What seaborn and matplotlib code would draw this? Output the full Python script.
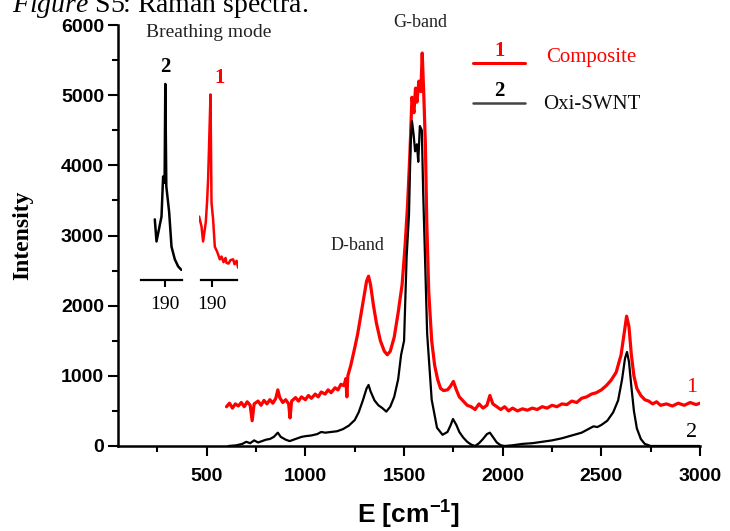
"""Raman spectra of the composite and oxidised SWNT (Figure S5)."""

import matplotlib
matplotlib.use("Agg")
import matplotlib.pyplot as plt
import numpy as np
import pandas as pd
import seaborn as sns
from matplotlib.lines import Line2D
from matplotlib.ticker import MultipleLocator

# main spectra (wavenumber cm^-1, intensity)
composite_x = [600, 615, 630, 645, 660, 675, 690, 705, 720, 730, 740, 760, 775, 790, 805,
               820, 835, 850, 860, 870, 885, 900, 915, 922, 930, 950, 965, 980, 1000, 1015,
               1030, 1050, 1065, 1080, 1100, 1115, 1130, 1150, 1165, 1180, 1195, 1205, 1210,
               1215, 1230, 1250, 1265, 1280, 1295, 1310, 1320, 1330, 1345, 1360, 1380, 1400,
               1415, 1430, 1450, 1470, 1490, 1505, 1518, 1530, 1540, 1550, 1558, 1565, 1575,
               1585, 1592, 1600, 1608, 1615, 1625, 1640, 1655, 1670, 1685, 1700, 1720, 1735,
               1750, 1765, 1780, 1800, 1820, 1840, 1860, 1880, 1900, 1920, 1935, 1950, 1970,
               1990, 2010, 2030, 2050, 2075, 2100, 2125, 2150, 2175, 2200, 2225, 2250, 2275,
               2300, 2325, 2350, 2375, 2400, 2425, 2450, 2475, 2500, 2525, 2550, 2575, 2600,
               2615, 2628, 2640, 2652, 2665, 2680, 2700, 2720, 2740, 2760, 2780, 2800, 2830,
               2860, 2890, 2920, 2950, 2980, 3000]
composite_y = [560, 610, 540, 600, 570, 620, 560, 630, 580, 360, 600, 640, 580, 650, 600,
               660, 610, 680, 800, 690, 620, 660, 600, 400, 640, 690, 640, 700, 660, 720,
               680, 740, 700, 770, 740, 800, 760, 830, 800, 880, 860, 960, 700,
               1000, 1150, 1400, 1600, 1850, 2100, 2350, 2420, 2300, 2000, 1750, 1500, 1350,
               1300, 1350, 1550, 1900, 2300, 2850, 3450, 4200, 4970, 4750, 5100, 4900, 5200,
               5050, 5600, 5000, 4300, 3200, 2200, 1500, 1150, 950, 820, 790, 800, 850,
               920, 800, 700, 640, 580, 560, 520, 600, 540, 580, 720, 600, 560,
               520, 560, 500, 540, 500, 530, 510, 540, 520, 560, 540, 580, 560,
               600, 590, 640, 620, 680, 700, 740, 760, 800, 860, 940, 1050, 1300,
               1600, 1850, 1700, 1300, 1000, 820, 720, 660, 640, 600, 630, 580, 600,
               570, 610, 580, 620, 590, 610]

oxi_x = [610, 650, 680, 700, 720, 740, 760, 780, 800, 820, 840, 860, 875, 900, 920, 940,
         960, 980, 1000, 1030, 1060, 1080, 1100, 1130, 1160, 1190, 1220, 1250, 1270, 1290,
         1310, 1320, 1330, 1350, 1370, 1390, 1410, 1430, 1450, 1470, 1485, 1500, 1513,
         1525, 1533, 1540, 1548, 1556, 1565, 1572, 1580, 1590, 1597, 1606, 1617, 1640,
         1667, 1695, 1720, 1735, 1748, 1765, 1780, 1800, 1820, 1840, 1860, 1880, 1900,
         1920, 1935, 1950, 1970, 1990, 2010, 2050, 2100, 2150, 2200, 2250, 2300, 2350,
         2400, 2440, 2460, 2480, 2500, 2530, 2560, 2585, 2605, 2620, 2630, 2640, 2652,
         2665, 2680, 2700, 2720, 2750, 2800, 3000]
oxi_y = [0, 10, 30, 60, 40, 80, 50, 70, 90, 100, 130, 190, 130, 90, 70, 90,
         110, 130, 140, 150, 170, 200, 190, 200, 210, 240, 290, 370, 480, 640,
         820, 870, 780, 650, 580, 540, 490, 560, 700, 950, 1300, 1500, 2700,
         3300, 4300, 4630, 4450, 4200, 4300, 4050, 4560, 4500, 3600, 2700, 1600, 660,
         260, 160, 200, 290, 385, 300, 200, 120, 60, 20, 0, 40, 100,
         170, 190, 130, 50, 10, 0, 10, 30, 40, 60, 80, 110, 150,
         190, 250, 280, 270, 300, 360, 480, 650, 950, 1250, 1340, 1200, 850,
         500, 250, 100, 30, 0, 0, 0]

# breathing-mode insets
oxi_rbm_x = [180.0, 181.7, 186.7, 188.3, 189.8, 190.5, 191.5, 194.3, 196.7, 200.0, 203.3, 206.5]
oxi_rbm_y = [3230, 2915, 3270, 3840, 3750, 5160, 3700, 3340, 2840, 2660, 2560, 2510]
composite_rbm_x = [177.6, 180.0, 181.6, 184.3, 185.6, 186.6, 187.6, 189.0, 190.0, 191.6,
                   193.3, 195.6, 198.3, 200.0, 202.0, 204.0, 205.0, 207.0, 209.0, 211.6,
                   213.0, 215.0, 216.6]
composite_rbm_y = [3270, 3130, 2915, 3190, 3490, 3800, 4300, 5010, 3470, 3230,
                   2840, 2770, 2660, 2700, 2620, 2680, 2610, 2600, 2650, 2660,
                   2590, 2640, 2540]

y_ticks = [0, 1000, 2000, 3000, 4000, 5000, 6000]
x_ticks = [500, 1000, 1500, 2000, 2500, 3000]

RED = "#ff0000"
BLACK = "#000000"
SERIF = "Liberation Serif"
SANS = "Liberation Sans"

sns.set_theme(style="ticks")
plt.rcParams["font.family"] = [SANS, "DejaVu Sans"]
plt.rcParams["mathtext.fontset"] = "custom"
plt.rcParams["mathtext.rm"] = SERIF
plt.rcParams["mathtext.it"] = SERIF + ":italic"

fig = plt.figure(figsize=(7.3, 5.31), dpi=100)
ax = fig.add_axes([118 / 730, 85 / 531, 582 / 730, 421 / 531])

comp_df = pd.DataFrame({"x": composite_x, "y": composite_y})
oxi_df = pd.DataFrame({"x": oxi_x, "y": oxi_y})
sns.lineplot(data=comp_df, x="x", y="y", color=RED, lw=2.3, estimator=None, ax=ax)
sns.lineplot(data=oxi_df, x="x", y="y", color=BLACK, lw=1.6, estimator=None, ax=ax)

ax.set_xlim(50, 3000)
ax.set_ylim(0, 6000)
ax.set_xticks(x_ticks)
ax.set_yticks(y_ticks)
ax.xaxis.set_minor_locator(MultipleLocator(250))
ax.yaxis.set_minor_locator(MultipleLocator(500))
ax.tick_params(which="major", length=7, width=1.5, color=BLACK)
ax.tick_params(axis="x", which="major", pad=9)
ax.tick_params(axis="y", which="major", pad=3)
ax.tick_params(which="minor", length=4, width=1.5, color=BLACK)
for lbl in ax.get_xticklabels() + ax.get_yticklabels():
    lbl.set_fontweight("bold")
    lbl.set_fontsize(14)
    lbl.set_color(BLACK)
sns.despine(ax=ax)
for side in ("left", "bottom"):
    ax.spines[side].set_linewidth(1.8)
    ax.spines[side].set_color(BLACK)

ax.set_xlabel(r"E [cm$\mathregular{^{-1}}$]", fontsize=19, fontweight="bold",
              color=BLACK, labelpad=10)
ax.set_ylabel("Intensity", fontsize=17, fontweight="bold", family=SERIF, color=BLACK)
ax.yaxis.set_label_coords(-0.145, 0.5)


def rbm_inset(x0, x1, xs, ys, color, lim):
    ins = ax.inset_axes([x0, 2372, x1 - x0, 6000 - 2372], transform=ax.transData)
    ins.patch.set_alpha(0)
    ins.plot(xs, ys, color=color, lw=1.8)
    ins.set_xlim(*lim)
    ins.set_ylim(2372, 6000)
    for side in ("top", "right", "left"):
        ins.spines[side].set_visible(False)
    ins.spines["bottom"].set_linewidth(1.6)
    ins.spines["bottom"].set_color(BLACK)
    ins.set_yticks([])
    ins.set_xticks([190])
    ins.tick_params(axis="x", length=5, width=1.5, color=BLACK, pad=7)
    for lbl in ins.get_xticklabels():
        lbl.set_family(SERIF)
        lbl.set_fontsize(14)
        lbl.set_color(BLACK)
    return ins


ins_oxi = rbm_inset(169, 372, oxi_rbm_x, oxi_rbm_y, BLACK, (166.7, 206.7))
ins_comp = rbm_inset(461, 659, composite_rbm_x, composite_rbm_y, RED, (177.6, 216.6))
ins_comp.spines["bottom"].set_bounds(180, 215)

serif_kw = dict(family=SERIF, transform=ax.transAxes, ha="center", va="center")
ax.text(0.155, 0.981, "Breathing mode", fontsize=14, color="#222222", **serif_kw)
ax.text(0.081, 0.900, "2", fontsize=15, fontweight="bold", color=BLACK, **serif_kw)
ax.text(0.175, 0.874, "1", fontsize=15, fontweight="bold", color=RED, **serif_kw)
ax.text(0.411, 0.477, "D-band", fontsize=13, color="#222222", **serif_kw)
ax.text(0.519, 1.005, "G-band", fontsize=13, color="#222222", **serif_kw)
ax.text(0.985, 0.140, "1", fontsize=16, color=RED, **serif_kw)
ax.text(0.985, 0.033, "2", fontsize=16, color=BLACK, **serif_kw)

# legend keys: number above a short line, name to the right
ax.add_line(Line2D([0.610, 0.699], [0.910, 0.910], color=RED, lw=2.2,
                   transform=ax.transAxes, clip_on=False))
ax.add_line(Line2D([0.610, 0.699], [0.815, 0.815], color="#444444", lw=1.8,
                   transform=ax.transAxes, clip_on=False))
ax.text(0.656, 0.938, "1", fontsize=15, fontweight="bold", color=RED, **serif_kw)
ax.text(0.656, 0.843, "2", fontsize=15, fontweight="bold", color=BLACK, **serif_kw)
ax.text(0.735, 0.922, "Composite", fontsize=15, color=RED, family=SERIF,
        transform=ax.transAxes, ha="left", va="center")
ax.text(0.730, 0.810, "Oxi-SWNT", fontsize=15, color="#111111", family=SERIF,
        transform=ax.transAxes, ha="left", va="center")

fig.text(12 / 730, 1 - 12 / 531, r"$\mathit{Figure}$ S5: Raman spectra.",
         fontsize=20, family=SERIF, color=BLACK, ha="left", va="baseline")

fig.savefig("out.png", dpi=100)
plt.close(fig)
